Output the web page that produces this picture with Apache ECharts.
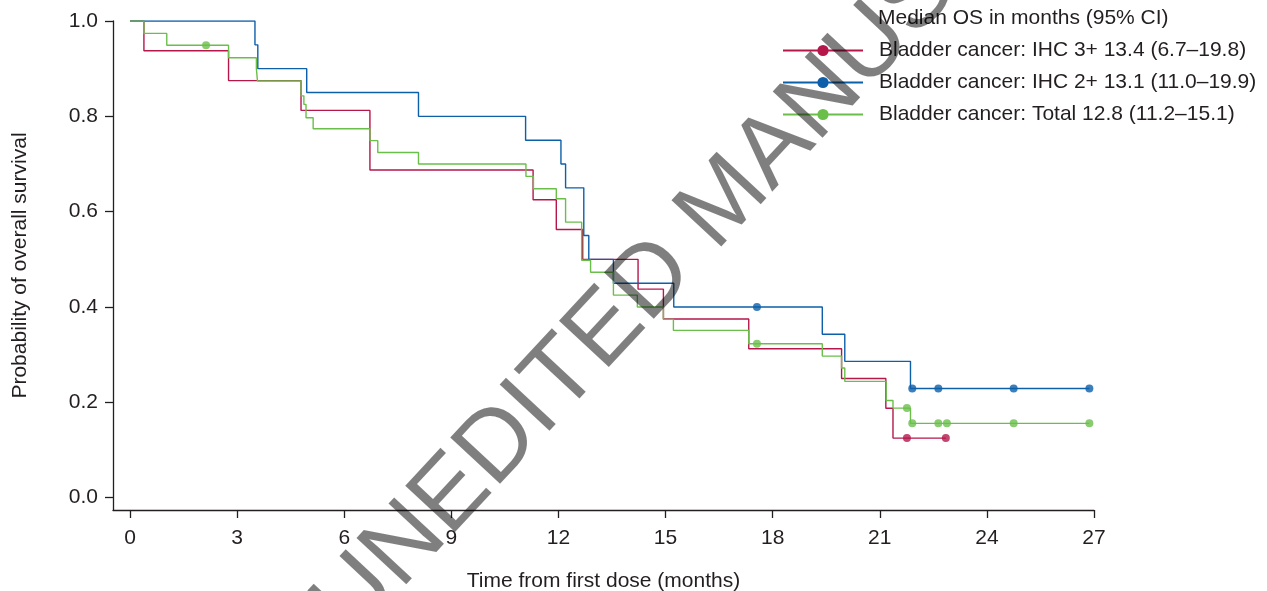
<!DOCTYPE html>
<html>
<head>
<meta charset="utf-8">
<title>Overall survival</title>
<script src="https://cdn.jsdelivr.net/npm/echarts@6/dist/echarts.min.js"></script>
<style>
  html, body { margin: 0; padding: 0; background: #fff; }
  #chart { width: 1267px; height: 591px; }
</style>
</head>
<body>
<div id="chart"></div>
<script>
// KM curves (months, survival)
const redName = 'Bladder cancer: IHC 3+ 13.4 (6.7\u201319.8)';
const redTimes = [0, 0.39, 2.76, 4.79, 6.72, 11.29, 11.94, 12.68, 14.23, 14.94, 17.33, 19.93, 21.17, 21.37, 22.85];
const redSurv = [1, 0.9375, 0.875, 0.8125, 0.6875, 0.625, 0.5625, 0.5, 0.4375, 0.375, 0.3125, 0.25, 0.1875, 0.125, 0.125];
const redCensorTimes = [21.76, 22.85];
const redCensorSurv = [0.125, 0.125];

const blueName = 'Bladder cancer: IHC 2+ 13.1 (11.0\u201319.9)';
const blueTimes = [0, 3.5, 3.58, 4.95, 8.08, 11.08, 12.07, 12.2, 12.71, 12.85, 13.54, 15.23, 19.39, 20.02, 21.86, 26.87];
const blueSurv = [1, 0.95, 0.9, 0.85, 0.8, 0.75, 0.7, 0.65, 0.55, 0.5, 0.45, 0.4, 0.343, 0.286, 0.229, 0.229];
const blueCensorTimes = [17.56, 21.91, 22.64, 24.75, 26.87];
const blueCensorSurv = [0.4, 0.229, 0.229, 0.229, 0.229];

const greenName = 'Bladder cancer: Total 12.8 (11.2\u201315.1)';
const greenTimes = [0, 0.39, 1.03, 2.76, 3.54, 3.57, 4.79, 4.87, 4.93, 5.13, 6.72, 6.94, 8.08, 11.09, 11.3, 11.94, 12.2, 12.65, 12.9, 13.54, 14.21, 14.94, 15.22, 17.33, 19.39, 19.93, 20.02, 21.18, 21.37, 21.86, 26.87];
const greenSurv = [1, 0.974, 0.949, 0.923, 0.9, 0.874, 0.843, 0.825, 0.797, 0.774, 0.749, 0.724, 0.7, 0.674, 0.648, 0.627, 0.578, 0.498, 0.473, 0.425, 0.4, 0.374, 0.351, 0.323, 0.297, 0.272, 0.244, 0.204, 0.188, 0.156, 0.156];
const greenCensorTimes = [2.13, 17.56, 21.76, 21.91, 22.64, 22.88, 24.75, 26.87];
const greenCensorSurv = [0.949, 0.323, 0.188, 0.156, 0.156, 0.156, 0.156, 0.156];

const xTicks = [0, 3, 6, 9, 12, 15, 18, 21, 24, 27];
const yTicks = [0, 0.2, 0.4, 0.6, 0.8, 1.0];

const legendTitle = 'Median OS in months (95% CI)';
const watermark = 'UNEDITED MANUSCRIPT';

const RED = '#b5174b';
const BLUE = '#0d5fa9';
const GREEN = '#6abf4b';
const INK = '#231f20';
const FONT = 'Liberation Sans, Arial, sans-serif';

const zip = (a, b) => a.map((v, i) => [v, b[i]]);

const stepSeries = (name, color, times, surv) => ({
  name: name,
  type: 'line',
  step: 'end',
  data: zip(times, surv),
  symbol: 'circle',
  showSymbol: false,
  lineStyle: { color: color, width: 1.4 },
  itemStyle: { color: color },
  emphasis: { disabled: true },
  silent: true
});

const censorSeries = (name, color, times, surv) => ({
  name: name,
  type: 'scatter',
  data: zip(times, surv),
  symbol: 'circle',
  symbolSize: 8,
  itemStyle: { color: color },
  emphasis: { disabled: true },
  silent: true
});

let chart = echarts.init(document.getElementById('chart'));

const option = {
  animation: false,
  textStyle: { fontFamily: FONT },
  title: {
    text: legendTitle,
    left: 878,
    top: 8,
    padding: 0,
    textStyle: { fontSize: 21, fontWeight: 'normal', color: INK, fontFamily: FONT }
  },
  legend: {
    orient: 'vertical',
    left: 782,
    top: 40,
    padding: 0,
    itemWidth: 80,
    itemHeight: 14,
    itemGap: 11,
    data: [redName, blueName, greenName],
    textStyle: { fontSize: 21, color: INK, fontFamily: FONT, padding: [0, 0, 0, 11] }
  },
  // v6 would otherwise shrink the grid to keep the axis name inside
  grid: { left: 113, right: 173, top: 21, bottom: 81, containLabel: false, outerBoundsMode: 'none' },
  xAxis: {
    type: 'value',
    min: -0.476,
    max: 27,
    name: 'Time from first dose (months)',
    nameLocation: 'middle',
    nameGap: 61,
    nameTextStyle: { fontSize: 21, color: INK, fontFamily: FONT },
    axisLine: { show: true, onZero: false, lineStyle: { color: INK, width: 1.3 } },
    axisTick: { show: true, length: 8, customValues: xTicks, lineStyle: { color: INK, width: 1.3 } },
    axisLabel: { customValues: xTicks, fontSize: 21, color: INK, margin: 18, fontFamily: FONT },
    splitLine: { show: false }
  },
  yAxis: {
    type: 'value',
    min: -0.0258,
    max: 1.0,
    name: 'Probability of overall survival',
    nameLocation: 'middle',
    nameGap: 82,
    nameTextStyle: { fontSize: 21, color: INK, fontFamily: FONT },
    axisLine: { show: true, onZero: false, lineStyle: { color: INK, width: 1.3 } },
    axisTick: { show: true, length: 8, customValues: yTicks, lineStyle: { color: INK, width: 1.3 } },
    axisLabel: {
      customValues: yTicks,
      fontSize: 21,
      color: INK,
      margin: 15,
      fontFamily: FONT,
      formatter: (v) => v.toFixed(1)
    },
    splitLine: { show: false }
  },
  series: [
    stepSeries(redName, RED, redTimes, redSurv),
    stepSeries(blueName, BLUE, blueTimes, blueSurv),
    stepSeries(greenName, GREEN, greenTimes, greenSurv),
    censorSeries('red censored', RED, redCensorTimes, redCensorSurv),
    censorSeries('blue censored', BLUE, blueCensorTimes, blueCensorSurv),
    censorSeries('green censored', GREEN, greenCensorTimes, greenCensorSurv)
  ],
  // diagonal watermark over the plot
  graphic: [
    {
      type: 'text',
      x: 332,
      y: 624,
      rotation: 47 * Math.PI / 180,
      z: 100,
      silent: true,
      style: {
        text: watermark,
        fontSize: 99,
        fontFamily: FONT,
        fill: 'rgba(0,0,0,0.5)',
        align: 'left',
        verticalAlign: 'middle'
      }
    }
  ]
};

chart.setOption(option);
window.addEventListener('resize', function () {
  chart && chart.resize();
});
</script>
</body>
</html>
